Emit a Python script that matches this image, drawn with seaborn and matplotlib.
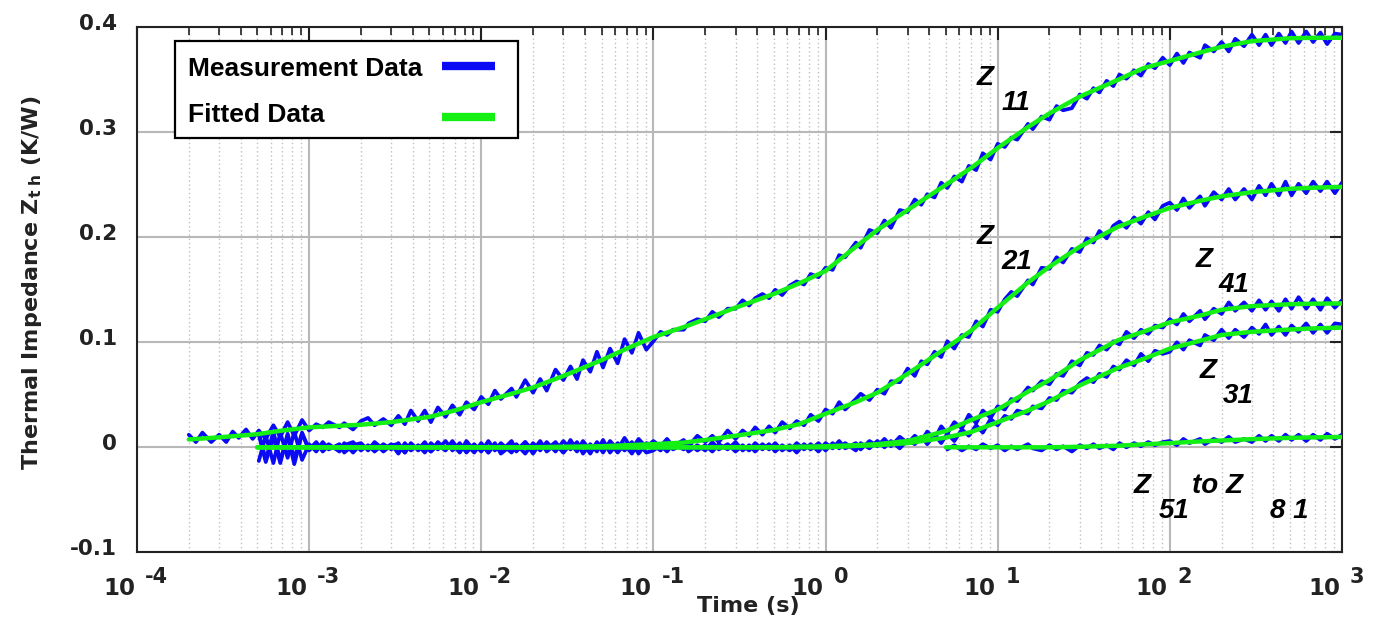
import matplotlib
matplotlib.use('Agg')
import matplotlib.pyplot as plt
import matplotlib.transforms as mtransforms
from matplotlib.patches import Rectangle
from matplotlib.ticker import LogLocator, NullFormatter
import seaborn as sns

# ---- data ----
# sampling grid of the measurement (E24 steps per decade)
mant = [1.0, 1.1, 1.2, 1.3, 1.5, 1.6, 1.8, 2.0, 2.2, 2.4, 2.7, 3.0,
        3.3, 3.6, 3.9, 4.3, 4.7, 5.1, 5.6, 6.2, 6.8, 7.5, 8.2, 9.1]
t_grid = [m * 10.0 ** d for d in range(-4, 3) for m in mant] + [1000.0]

# measured Zth (K/W)
z11_meas = [.012, .005, .014, .005, .012, .005, .015, .009, .017, .008, .016, .008, .021, .010, .024, .011, .026,
            .016, .022, .019, .024, .019, .023, .017, .025, .028, .021, .027, .021, .030, .022, .035, .025, .035, .024, .038, .029, .040, .031, .043, .036,
            .048, .041, .054, .046, .056, .048, .064, .052, .065, .054, .074, .064, .077, .065, .083, .072, .091, .076, .094, .080, .103, .090, .109, .093,
            .101, .110, .107, .112, .112, .118, .122, .120, .129, .124, .132, .132, .140, .135, .142, .146, .142, .150, .145, .154, .158, .155, .165, .162,
            .171, .169, .183, .181, .195, .190, .207, .204, .216, .209, .226, .224, .236, .231, .241, .238, .252, .247, .258, .253, .268, .264, .280, .274,
            .289, .286, .295, .293, .308, .303, .315, .312, .325, .321, .323, .336, .332, .342, .338, .349, .344, .355, .351, .359, .354, .365, .361, .371,
            .364, .375, .366, .376, .371, .383, .377, .386, .377, .389, .382, .393, .383, .393, .383, .394, .385, .396, .385, .396, .386, .395, .384, .394, .393]
z21_meas = [.012, -.014, .010, -.015, .013, -.011, .014,
            -.003, .004, -.002, .003, -.004, .002, .005, -.003, .002, -.004, .003, -.002, .004, -.005, .003, -.002, .005, -.004, .002, -.003, .006, -.004, .003, -.005,
            .004, -.005, .003, -.004, .006, -.003, .005, -.006, .004, -.002, .005, -.005, .003, -.004, .006, -.003, .004, -.005, .006, -.002, .009, -.002, .008, .000,
            .006, .001, .008, .001, .007, .001, .011, .005, .011, .005, .016, .008, .016, .011, .019, .012, .020, .014, .024, .018, .025, .021, .031, .025,
            .036, .032, .043, .036, .046, .051, .045, .055, .051, .063, .062, .075, .068, .082, .079, .091, .086, .101, .094, .107, .105, .120, .115, .131,
            .129, .141, .148, .144, .159, .155, .171, .170, .181, .176, .189, .186, .199, .195, .206, .199, .211, .215, .209, .219, .213, .224, .217, .230,
            .233, .226, .237, .228, .239, .230, .243, .236, .246, .236, .246, .236, .249, .240, .251, .240, .253, .240, .251, .242, .253, .244, .253, .242, .252]
z41_meas = [-.013, .011, -.015, .014, -.010, .015, -.012,
            .003, -.004, .005, -.002, .003, -.005, .002, .004, -.003, .005, -.002, .003, -.006, .004, -.003, .002, -.005, .004, -.002, .006, -.003, .004, -.005, .003,
            -.004, .006, -.003, .004, -.005, .003, -.006, .004, -.003, .005, -.004, .006, -.002, .005, -.006, .003, -.004, .007, -.005, .004, -.003, .005, -.006, .004,
            .002, -.003, .004, -.002, .003, -.004, .002, -.003, .005, -.002, .003, -.004, .002, -.003, .004, -.002, .003, -.004, .002, -.003, .004, -.002, .003, -.004,
            .004, -.001, .006, -.001, .004, -.002, .006, .001, .008, .001, .010, .004, .011, .006, .015, .008, .020, .013, .024, .018, .031, .023, .035, .028,
            .039, .036, .046, .044, .057, .054, .063, .060, .070, .068, .082, .078, .090, .088, .097, .093, .101, .098, .110, .104, .112, .108, .116, .114,
            .122, .117, .127, .120, .130, .122, .132, .127, .138, .130, .138, .130, .140, .131, .139, .130, .141, .132, .143, .132, .141, .131, .142, .133, .140]
z31_meas = [.014, -.012, .015, -.013, .011, -.016, .013,
            -.002, .005, -.004, .002, -.003, .004, -.005, .003, -.002, .004, -.004, .002, .003, -.005, .004, -.003, .002, -.004, .005, -.002, .003, -.005, .006, -.003,
            .003, -.005, .004, -.006, .002, -.004, .005, -.003, .006, -.004, .003, -.005, .007, -.003, .004, -.006, .005, -.002, .004, -.005, .003, -.006, .004, -.005,
            -.003, .002, -.004, .003, -.002, .004, -.003, .002, -.004, .003, -.002, .005, -.003, .002, -.004, .003, -.002, .004, -.003, .002, -.005, .003, -.002, .004,
            -.003, .004, -.001, .004, -.003, .004, -.001, .006, .000, .006, -.001, .007, .003, .010, .003, .012, .004, .013, .006, .017, .011, .021, .014, .027,
            .021, .030, .027, .035, .032, .039, .037, .047, .045, .054, .052, .061, .066, .062, .070, .067, .077, .074, .083, .078, .089, .082, .092, .089,
            .091, .100, .093, .102, .097, .107, .102, .112, .104, .112, .105, .114, .108, .117, .107, .115, .107, .116, .110, .118, .109, .117, .109, .118, .117]
z51_meas = [-.002, .002, -.003, .001, -.002, .003, -.001,
            .002, -.003, .001, -.002, .003, -.001, -.003, .002, -.002, .001, -.004, .002, -.001, .003, -.001, .002, -.002, .004, .000, .004, .001, .005, .002, .005,
            .006, .002, .008, .004, .008, .003, .008, .005, .010, .005, .008, .005, .011, .006, .011, .006, .012, .007, .012, .006, .012, .007, .013, .008, .012]

# fitted curves
fit_t = [5e-4, 7e-4, 1e-3, 1.5e-3, 2e-3, 3e-3, 5e-3, 7e-3, 1e-2, 1.5e-2, 2e-2, 3e-2, 5e-2, 7e-2,
         0.1, 0.15, 0.2, 0.3, 0.5, 0.7, 1, 1.5, 2, 3, 5, 7, 10, 15, 20, 30, 50, 70,
         100, 150, 200, 300, 500, 700, 1000]
fit_t11 = [2e-4, 3e-4] + fit_t
z11_fit = [.0075, .0095, .0125, .016, .019, .0205, .0215, .024, .029, .035, .043, .051, .057, .068, .083, .094,
           .105, .1145, .122, .133, .146, .156, .168, .191, .207, .226, .250, .266, .285, .305, .318, .334, .350, .361,
           .368, .376, .3815, .3868, .3896, .390, .390]
z21_fit = [0, 0, 0, 0, 0, 0, 0, 0, 0, 0, 0, .0005, .001, .002,
           .003, .0045, .007, .011, .0165, .022, .032, .043, .052, .070, .0945, .111, .133, .157, .172, .191, .210, .219,
           .228, .2348, .239, .243, .2462, .2473, .248]
z41_fit = [0, 0, 0, 0, 0, 0, 0, 0, 0, 0, 0, 0, 0, 0,
           0, 0, 0, 0, 0, .0005, .001, .002, .003, .006, .0155, .026, .036, .053, .064, .083, .102, .110,
           .119, .1255, .131, .1345, .1363, .1368, .137]
z31_fit = [0, 0, 0, 0, 0, 0, 0, 0, 0, 0, 0, 0, 0, 0,
           0, 0, 0, 0, 0, 0, 0, .0013, .002, .004, .0093, .0145, .024, .035, .044, .059, .0755, .084,
           .094, .1015, .107, .110, .1122, .1133, .114]
fit_t51 = fit_t[24:]
z51_fit = [0, 0, 0, 0, 0, .0005, .0015, .0028, .004, .0056, .0065, .0078, .009, .0095, .0098]

xtick_exps = ['-4', '-3', '-2', '-1', '0', '1', '2', '3']
ytick_vals = [-0.1, 0, 0.1, 0.2, 0.3, 0.4]
ytick_labels = ['-0.1', '0', '0.1', '0.2', '0.3', '0.4']

BLUE = '#0a0af5'
GREEN = '#14f014'

sns.set_theme(style='white')
plt.rcParams['font.family'] = ['DejaVu Sans']

fig = plt.figure(figsize=(13.85, 6.26), dpi=100)
ax = fig.add_axes([0.0989, 0.1177, 0.8700, 0.8387])

meas = [(t_grid[7:], z11_meas), (t_grid[17:], z21_meas), (t_grid[17:], z41_meas),
        (t_grid[17:], z31_meas), (t_grid[113:], z51_meas)]
fits = [(fit_t11, z11_fit), (fit_t, z21_fit), (fit_t, z41_fit), (fit_t, z31_fit), (fit_t51, z51_fit)]

for t, z in meas:
    sns.lineplot(x=t, y=z, ax=ax, color=BLUE, linewidth=2.7, estimator=None, sort=False, zorder=3)
for t, z in fits:
    sns.lineplot(x=t, y=z, ax=ax, color=GREEN, linewidth=3.2, estimator=None, sort=False, zorder=4)

ax.set_xscale('log')
ax.set_xlim(1e-4, 1e3)
ax.set_ylim(-0.1, 0.4)
ax.xaxis.set_major_locator(LogLocator(base=10, numticks=20))
ax.xaxis.set_minor_locator(LogLocator(base=10, subs=range(2, 10), numticks=200))
ax.xaxis.set_major_formatter(NullFormatter())
ax.xaxis.set_minor_formatter(NullFormatter())
ax.set_yticks(ytick_vals)
ax.set_yticklabels(ytick_labels, fontsize=15.5, fontweight='bold', color='#222222')

ax.tick_params(which='both', direction='in', top=True, right=True, color='#222222')
ax.tick_params(which='major', length=9, width=1.5, pad=14.5)
ax.tick_params(which='minor', length=5.5, width=1.2)
for lab in ax.get_yticklabels():
    lab.set_transform(lab.get_transform() + mtransforms.ScaledTranslation(0, 0.05, fig.dpi_scale_trans))

ax.grid(which='major', axis='both', color='#b8b8b8', linewidth=1.5, linestyle='-')
ax.grid(which='minor', axis='x', color='#c0c0c0', linewidth=1.0, linestyle=(0, (1, 2)))
ax.set_axisbelow(True)
for sp in ax.spines.values():
    sp.set_color('#222222')
    sp.set_linewidth(1.5)

# x tick labels in the "10 -4" style
blend = mtransforms.blended_transform_factory(ax.transData, ax.transAxes)
for k, e in zip(range(-4, 4), xtick_exps):
    ax.text(10.0 ** k, 0, '10', ha='right', va='baseline', fontsize=16.5, fontweight='bold', color='#222222',
            transform=blend + mtransforms.ScaledTranslation(-0.02, -0.427, fig.dpi_scale_trans))
    ax.text(10.0 ** k, 0, e, ha='left', va='baseline', fontsize=15, fontweight='bold', color='#222222',
            transform=blend + mtransforms.ScaledTranslation(0.08, -0.307, fig.dpi_scale_trans))

ax.set_xlabel('Time (s)', fontsize=16, fontweight='bold', color='#222222')
ax.xaxis.set_label_coords(0.507, -0.083)
ax.set_ylabel('Thermal Impedance Z$_{\\mathbf{t\\ h}}$ (K/W)', fontsize=16, fontweight='bold', color='#222222')
ax.yaxis.set_label_coords(-0.077, 0.513)

# curve labels
lab_font = dict(family=['Liberation Sans', 'DejaVu Sans'], fontsize=20, fontweight='bold',
                fontstyle='italic', color='black', va='baseline', ha='left', zorder=6)
ax.text(7.55, 0.345, 'Z', **lab_font)
ax.text(10.5, 0.321, '11', **lab_font)
ax.text(7.55, 0.1936, 'Z', **lab_font)
ax.text(10.5, 0.170, '21', **lab_font)
ax.text(141, 0.172, 'Z', **lab_font)
ax.text(192, 0.148, '41', **lab_font)
ax.text(150, 0.0657, 'Z', **lab_font)
ax.text(203, 0.042, '31', **lab_font)
ax.text(61.6, -0.0435, 'Z', **lab_font)
ax.text(86, -0.0673, '51', **lab_font)
ax.text(134, -0.0435, 'to Z', **lab_font)
ax.text(380, -0.0673, '8 1', **lab_font)

# legend box
ax.add_patch(Rectangle((0.0315, 0.789), 0.2847, 0.185, transform=ax.transAxes, facecolor='white',
                       edgecolor='black', linewidth=1.6, zorder=7))
leg_font = dict(family=['Liberation Sans', 'DejaVu Sans'], fontsize=19, fontweight='bold', color='black',
                ha='left', va='baseline', transform=ax.transAxes, zorder=8)
ax.text(0.0423, 0.908, 'Measurement Data', **leg_font)
ax.text(0.0423, 0.820, 'Fitted Data', **leg_font)
ax.plot([0.253, 0.297], [0.927, 0.927], color=BLUE, linewidth=6, transform=ax.transAxes, zorder=8,
        solid_capstyle='butt')
ax.plot([0.253, 0.297], [0.830, 0.830], color=GREEN, linewidth=6, transform=ax.transAxes, zorder=8,
        solid_capstyle='butt')

fig.savefig('out.png', dpi=100)
